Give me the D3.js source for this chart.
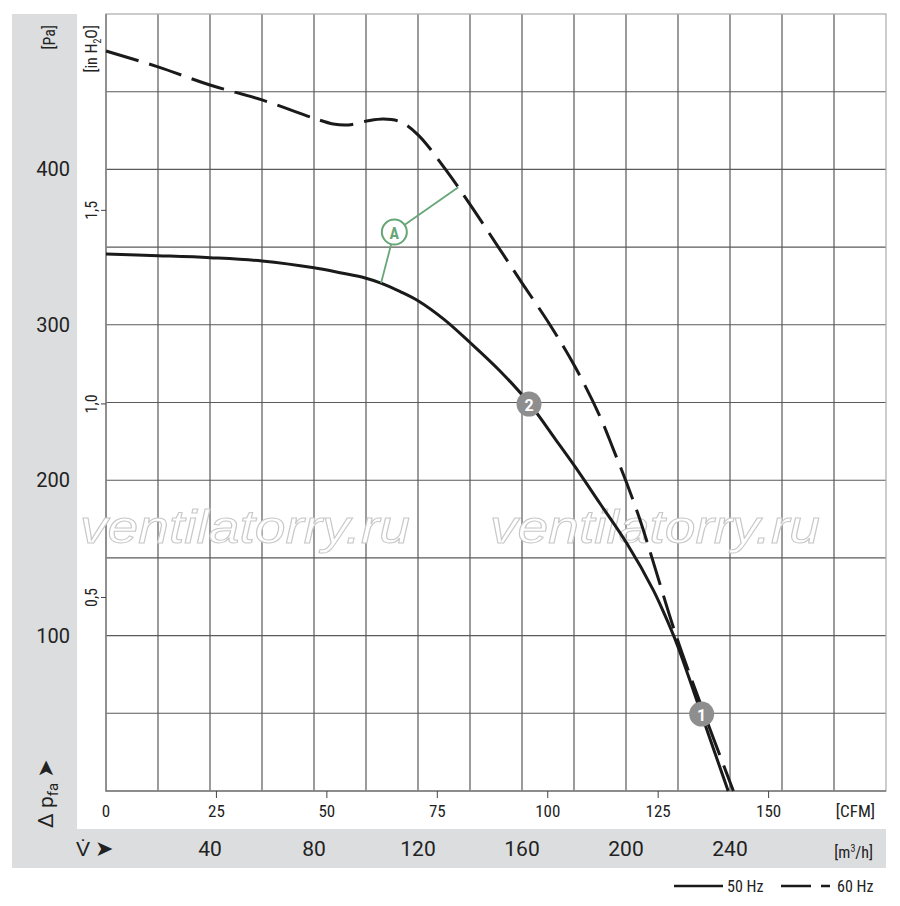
<!DOCTYPE html>
<html>
<head>
<meta charset="utf-8">
<script src="https://cdn.jsdelivr.net/npm/d3@7"></script>
<style>
  body { margin: 0; background: #fff; }
  text { font-family: Roboto, "Liberation Sans", Arial, sans-serif; fill: #222; }
  .narrow { font-family: "Liberation Sans Narrow", "Roboto Condensed", Roboto, sans-serif; font-stretch: condensed; }
</style>
</head>
<body>
<svg id="chart" width="900" height="906"></svg>
<script>
// 50 Hz curve, flow in m3/h and pressure in Pa
const flow50 = [0, 20, 40, 60, 80, 90, 100, 106, 113, 120, 130, 140, 152, 163, 173, 180.4, 190, 200.3, 210.5, 215, 219.5, 224, 229, 239.3];
const pa50 = [345.6, 344.5, 343.2, 341.1, 336.7, 333.5, 330, 326.7, 321.5, 315.5, 303.5, 288.6, 269.5, 249, 226, 208.7, 185, 159.4, 129.3, 113, 95, 74, 49.5, 0];

// 60 Hz curve
const flow60 = [0, 20, 40, 60, 80, 87.4, 93.2, 100.3, 106.6, 113.1, 120.1, 131, 140, 150.9, 160.1, 170.8, 180.4, 190, 195.1, 200.3, 205.4, 210, 219.4, 229.1, 241.3];
const pa60 = [476.2, 466, 454.3, 444.7, 432.9, 429.2, 428.6, 431.1, 432.4, 430.7, 422.1, 399, 377.5, 350, 326.7, 299.9, 273, 241, 220, 198, 174.4, 150, 99.3, 54.2, 0];

// operating points
const pointLabels = ["1", "2"];
const pointFlow = [229.1, 162.7];
const pointPa = [49.5, 249];

// annotation A: circle position and the two leader ends
const annotA = [110.9, 359.7];
const leaderFlow = [135.5, 105.8];
const leaderPa = [388.5, 326.9];

// tick labels
const paTicks = [100, 200, 300, 400];
const inTicks = [0.5, 1.0, 1.5];
const inTickLabels = ["0,5", "1,0", "1,5"];
const cfmTicks = [0, 25, 50, 75, 100, 125, 150];
const m3hTicks = [40, 80, 120, 160, 200, 240];

const PA_PER_INH2O = 249.09;
const M3H_PER_CFM = 1.699;

const svg = d3.select("#chart");
const pLeft = 106, pRight = 886, pTop = 14, pBottom = 791;

const x = d3.scaleLinear().domain([0, 300]).range([pLeft, pRight]);
const y = d3.scaleLinear().domain([0, 500]).range([pBottom, pTop]);
const xCfm = d3.scaleLinear().domain([0, 300 / M3H_PER_CFM]).range([pLeft, pRight]);
const yIn = d3.scaleLinear().domain([0, 500 / PA_PER_INH2O]).range([pBottom, pTop]);

// grey label bands
svg.append("rect").attr("x", 12).attr("y", 14).attr("width", 65).attr("height", 854).attr("fill", "#dcdddf");
svg.append("rect").attr("x", 12).attr("y", 829).attr("width", 874).attr("height", 39).attr("fill", "#dcdddf");

// grid
svg.append("g")
  .selectAll("line")
  .data(d3.range(20, 300, 20))
  .join("line")
  .attr("x1", d => x(d)).attr("x2", d => x(d))
  .attr("y1", pTop).attr("y2", pBottom)
  .attr("stroke", "#4a4a4a").attr("stroke-width", 1.1);

svg.append("g")
  .selectAll("line")
  .data(d3.range(50, 500, 50))
  .join("line")
  .attr("x1", pLeft).attr("x2", pRight)
  .attr("y1", d => y(d)).attr("y2", d => y(d))
  .attr("stroke", "#5a5a5a").attr("stroke-width", 1.1);

// frame
svg.append("rect")
  .attr("x", pLeft).attr("y", pTop).attr("width", pRight - pLeft).attr("height", pBottom - pTop)
  .attr("fill", "none").attr("stroke", "#aaa").attr("stroke-width", 1.2);
svg.append("path")
  .attr("d", `M${pLeft},${pTop}V${pBottom}H${pRight}`)
  .attr("fill", "none").attr("stroke", "#777").attr("stroke-width", 1.4);

// watermark
svg.append("g")
  .selectAll("text")
  .data([80, 490])
  .join("text")
  .attr("x", d => d).attr("y", 543)
  .attr("textLength", 330).attr("lengthAdjust", "spacingAndGlyphs")
  .style("font-family", "Liberation Sans, sans-serif")
  .style("font-style", "italic")
  .style("font-size", "46px")
  .style("fill", "#fff").style("stroke", "#c8c8c8").style("stroke-width", 1)
  .text("ventilatorry.ru");

// Pa labels
svg.append("g")
  .selectAll("text")
  .data(paTicks)
  .join("text")
  .attr("x", 70).attr("y", d => y(d))
  .attr("text-anchor", "end").attr("dominant-baseline", "central")
  .style("font-size", "20px")
  .text(d => d);

// in H2O ticks and rotated labels
const inG = svg.append("g");
inG.selectAll("line")
  .data(inTicks)
  .join("line")
  .attr("x1", pLeft - 5).attr("x2", pLeft)
  .attr("y1", d => yIn(d)).attr("y2", d => yIn(d))
  .attr("stroke", "#444");
inG.selectAll("text")
  .data(inTicks)
  .join("text")
  .attr("class", "narrow")
  .attr("transform", d => `translate(97,${yIn(d)}) rotate(-90)`)
  .attr("text-anchor", "middle")
  .style("font-size", "16px")
  .text((d, i) => inTickLabels[i]);

// unit labels on the left
svg.append("text")
  .attr("class", "narrow")
  .attr("transform", "translate(55,25) rotate(-90)")
  .attr("text-anchor", "end")
  .style("font-size", "16px")
  .text("[Pa]");

const inUnit = svg.append("text")
  .attr("class", "narrow")
  .attr("transform", "translate(97,25) rotate(-90)")
  .attr("text-anchor", "end")
  .style("font-size", "16px");
inUnit.append("tspan").text("[in H");
inUnit.append("tspan").attr("dy", 4).style("font-size", "10px").text("2");
inUnit.append("tspan").attr("dy", -4).text("O]");

const dp = svg.append("text")
  .attr("transform", "translate(53,828) rotate(-90)")
  .style("font-size", "21px");
dp.append("tspan").text("Δ p");
dp.append("tspan").attr("dy", 5).style("font-size", "15px").text("fa");
dp.append("tspan").attr("dy", -5).attr("dx", 5).style("font-family", "DejaVu Sans").style("font-size", "22px").text("➤");

// CFM axis
const cfmG = svg.append("g");
cfmG.selectAll("line")
  .data(cfmTicks.slice(1))
  .join("line")
  .attr("x1", d => xCfm(d)).attr("x2", d => xCfm(d))
  .attr("y1", pBottom).attr("y2", pBottom + 7)
  .attr("stroke", "#444");
cfmG.selectAll("text")
  .data(cfmTicks)
  .join("text")
  .attr("class", "narrow")
  .attr("x", d => xCfm(d)).attr("y", 817)
  .attr("text-anchor", "middle")
  .style("font-size", "17px")
  .text(d => d);
svg.append("text")
  .attr("class", "narrow")
  .attr("x", 875).attr("y", 817)
  .attr("text-anchor", "end")
  .style("font-size", "17px")
  .text("[CFM]");

// m3/h axis
svg.append("g")
  .selectAll("text")
  .data(m3hTicks)
  .join("text")
  .attr("x", d => x(d)).attr("y", 856)
  .attr("text-anchor", "middle")
  .style("font-size", "21px")
  .text(d => d);

const vdot = svg.append("text").attr("x", 76).attr("y", 856).style("font-size", "21px");
vdot.append("tspan").text("V\u0307");
vdot.append("tspan").attr("dx", 5).style("font-family", "DejaVu Sans").style("font-size", "22px").text("➤");

const m3 = svg.append("text")
  .attr("class", "narrow")
  .attr("x", 873).attr("y", 858)
  .attr("text-anchor", "end")
  .style("font-size", "16px");
m3.append("tspan").text("[m");
m3.append("tspan").attr("dy", -6).style("font-size", "10px").text("3");
m3.append("tspan").attr("dy", 6).text("/h]");

// curves
const line = d3.line()
  .x(d => x(d[0]))
  .y(d => y(d[1]))
  .curve(d3.curveCatmullRom.alpha(0.5));

svg.append("path")
  .datum(d3.zip(flow50, pa50))
  .attr("d", line)
  .attr("fill", "none").attr("stroke", "#1a1a1a").attr("stroke-width", 3);

svg.append("path")
  .datum(d3.zip(flow60, pa60))
  .attr("d", line)
  .attr("fill", "none").attr("stroke", "#1a1a1a").attr("stroke-width", 3)
  .attr("stroke-dasharray", "34,11");

// annotation A
const green = "#67a677";
svg.append("g")
  .selectAll("line")
  .data(d3.zip(leaderFlow, leaderPa))
  .join("line")
  .attr("x1", x(annotA[0])).attr("y1", y(annotA[1]))
  .attr("x2", d => x(d[0])).attr("y2", d => y(d[1]))
  .attr("stroke", green).attr("stroke-width", 1.8);
svg.append("circle")
  .attr("cx", x(annotA[0])).attr("cy", y(annotA[1])).attr("r", 12.5)
  .attr("fill", "#fff").attr("stroke", green).attr("stroke-width", 2);
svg.append("text")
  .attr("class", "narrow")
  .attr("x", x(annotA[0])).attr("y", y(annotA[1]) + 1)
  .attr("text-anchor", "middle").attr("dominant-baseline", "central")
  .style("font-size", "16px").style("font-weight", "bold").style("fill", green)
  .text("A");

// operating point markers
const pts = svg.append("g")
  .selectAll("g")
  .data(pointLabels)
  .join("g")
  .attr("transform", (d, i) => `translate(${x(pointFlow[i])},${y(pointPa[i])})`);
pts.append("circle").attr("r", 12.5).attr("fill", "#8e8e8e");
pts.append("text")
  .attr("text-anchor", "middle").attr("dominant-baseline", "central").attr("y", 1)
  .style("font-size", "16px").style("font-weight", "bold").style("fill", "#fff")
  .text(d => d);

// legend
const lg = svg.append("g");
lg.append("line").attr("x1", 674).attr("x2", 723).attr("y1", 886).attr("y2", 886)
  .attr("stroke", "#1a1a1a").attr("stroke-width", 2.5);
lg.append("text").attr("class", "narrow").attr("x", 727).attr("y", 892)
  .style("font-size", "16px").text("50 Hz");
lg.append("line").attr("x1", 781).attr("x2", 830).attr("y1", 886).attr("y2", 886)
  .attr("stroke", "#1a1a1a").attr("stroke-width", 2.5).attr("stroke-dasharray", "30,10");
lg.append("text").attr("class", "narrow").attr("x", 837).attr("y", 892)
  .style("font-size", "16px").text("60 Hz");
</script>
</body>
</html>
